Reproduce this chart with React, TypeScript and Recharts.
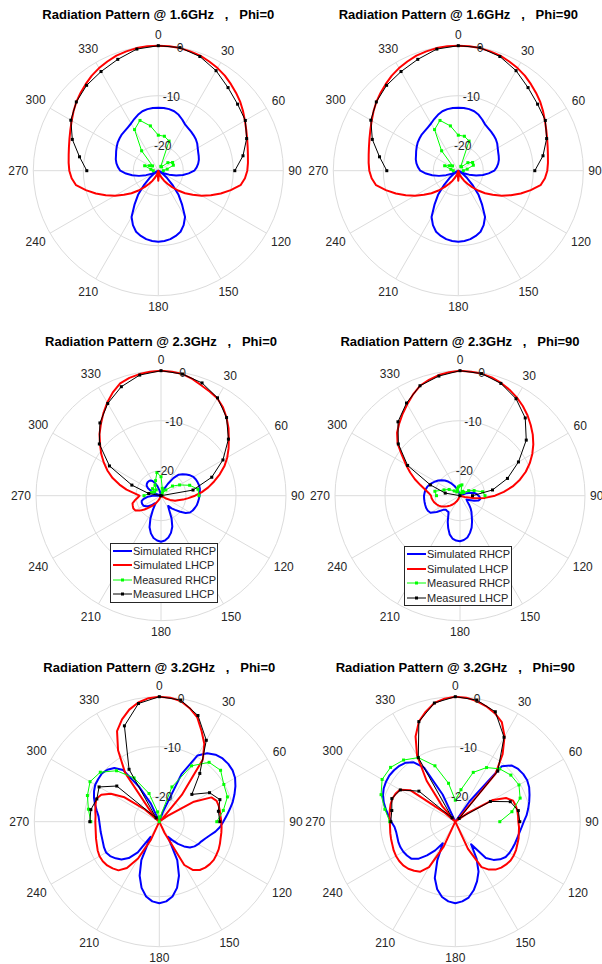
import React from "react";
import {
  RadarChart,
  Radar,
  PolarGrid,
  PolarAngleAxis,
  PolarRadiusAxis,
  Legend,
} from "recharts";

const FONT = '"Liberation Sans", Arial, Helvetica, sans-serif';
const TEXT = "#262626";
const GRID = "#dcdcdc";
const R_OUTER = 125;

// simulated curves: one value every 5 degrees, 0..355 (clockwise from top)
const SIM_ANGLES = [
  0, 5, 10, 15, 20, 25, 30, 35, 40, 45, 50, 55, 60, 65, 70, 75, 80, 85,
  90, 95, 100, 105, 110, 115, 120, 125, 130, 135, 140, 145, 150, 155, 160, 165, 170, 175,
  180, 185, 190, 195, 200, 205, 210, 215, 220, 225, 230, 235, 240, 245, 250, 255, 260, 265,
  270, 275, 280, 285, 290, 295, 300, 305, 310, 315, 320, 325, 330, 335, 340, 345, 350, 355,
];

// measured points: every 10 degrees over the front half, 270 -> 0 -> 90
const MEAS_ANGLES = [270, 280, 290, 300, 310, 320, 330, 340, 350, 0, 10, 20, 30, 40, 50, 60, 70, 80, 90];

const ANGLE_TICKS = [0, 30, 60, 90, 120, 150, 180, 210, 240, 270, 300, 330];
const R_TICKS = [-20, -10, 0];

// 1.6 GHz (both cuts)
const SIM_RHCP_16 = [
  -12.4, -12.4, -12.5, -12.7, -13.1, -13.7, -14.3, -14.6, -14.8, -15.0, -15.2, -15.5, -15.9, -16.2, -16.4, -16.6, -16.9, -17.3,
  -17.8, -18.9, -20.0, -21.3, -22.7, -23.8, -25, -24, -22.7, -21, -18.7, -16.7, -14.3, -13, -12.0, -11.5, -11.1, -10.9,
  -10.8, -10.9, -11.1, -11.5, -12.0, -13, -14.3, -16.7, -18.7, -21, -22.7, -24, -25, -23.6, -22.4, -21.0, -19.7, -18.5,
  -17.4, -16.9, -16.5, -16.2, -16.0, -15.7, -15.4, -15.1, -14.9, -14.7, -14.6, -14.4, -14.1, -13.6, -13.1, -12.7, -12.5, -12.4,
];
const SIM_LHCP_16 = [
  0, 0, -0.1, -0.3, -0.5, -0.9, -1.3, -1.8, -2.4, -3.0, -3.6, -4.3, -5.0, -5.6, -6.1, -6.5, -6.8, -7.0,
  -7.2, -7.6, -8.3, -10.0, -11.7, -13.4, -15.0, -16.6, -18.0, -19.4, -20.7, -21.8, -22.7, -23.5, -24.2, -25, -25, -24,
  -23, -24, -25, -25, -24.2, -23.5, -22.7, -21.8, -20.7, -19.4, -18.0, -16.6, -15.0, -13.4, -11.7, -10.0, -8.3, -7.6,
  -7.2, -7.0, -6.8, -6.5, -6.1, -5.6, -5.0, -4.3, -3.6, -3.0, -2.4, -1.8, -1.3, -0.9, -0.5, -0.3, -0.1, 0,
];
const MEAS_RHCP_16 = [-24, -23.5, -22.1, -23, -23.5, -19.8, -15.5, -14.3, -15.9, -17.9, -18, -18.7, -24, -24, -22.5, -21.7, -21.8, -23.2, -24];
const MEAS_LHCP_16 = [-10.7, -9, -6.7, -4.8, -3.6, -2.7, -2.1, -1.3, -0.3, 0, 0, -0.7, -1.9, -3.3, -4.3, -4.9, -6.2, -7.8, -9.7];

// 2.3 GHz, Phi=0
const SIM_RHCP_23A = [
  -25, -25, -25, -25, -24.5, -23.5, -22.3, -20.7, -19.5, -18.9, -18.4, -17.9, -17.5, -17.3, -17.2, -17.1, -17.1, -17.2,
  -17.3, -17.4, -17.5, -17.6, -17.8, -18, -18.3, -19, -20, -21, -21.7, -22.5, -21.8, -20, -18.4, -17.3, -16.5, -16,
  -15.8, -16, -16.4, -17.2, -18.3, -20, -21.8, -23, -23, -22.3, -21.7, -21.3, -21, -20.9, -20.9, -21, -21.5, -22.3,
  -23.3, -24.5, -25, -25, -24, -22.8, -22, -21.5, -21.3, -21.2, -21.2, -21.3, -21.6, -22.2, -23, -24, -25, -25,
];
const SIM_LHCP_23A = [
  0, -0.1, -0.3, -0.8, -1.5, -2.0, -2.5, -3.4, -4.6, -5.9, -7.3, -8.5, -9.7, -11, -12.5, -14, -15.4, -16.8,
  -18.2, -19.5, -20.5, -21.5, -22, -23, -24, -25, -25, -25, -25, -25, -25, -25, -25, -25, -25, -25,
  -25, -25, -25, -25, -25, -24.3, -23.8, -23.1, -22.5, -21.7, -20.7, -19.8, -19.1, -18.9, -19, -19.1, -19.7, -20.3,
  -20.7, -19.7, -18, -16.4, -14.7, -13.2, -11.8, -10.4, -9.1, -7.6, -6.3, -4.9, -3.5, -2.2, -1.1, -0.6, -0.3, -0.1,
];
const MEAS_RHCP_23A = [-21.6, -22.5, -23, -23.5, -22.8, -23.5, -22.6, -21.8, -20.3, -21.2, -23.5, -24, -24.5, -23.5, -22, -20.7, -18.9, -17.5, -17.4];
const MEAS_LHCP_23A = [-25, -22.5, -18.8, -13.1, -8.9, -6.0, -3.7, -1.8, -0.5, 0, -0.3, -1, -2.4, -4.6, -7.4, -10.7, -14.2, -18.5, -25];

// 2.3 GHz, Phi=90
const SIM_RHCP_23B = [
  -25, -25, -25, -25, -25, -25, -25, -25, -25, -25, -25, -25, -25, -24.3, -23.5, -22.8, -22, -21.6,
  -21.3, -21, -20.9, -21.2, -22, -23, -23.5, -23.3, -23, -22.4, -21.7, -21, -20.3, -19.3, -18.2, -17.3, -16.5, -16.1,
  -15.9, -16, -16.3, -17, -18.1, -19.2, -20.3, -21, -21, -21, -20.6, -19.3, -18.2, -17.9, -17.8, -17.8, -17.8, -17.8,
  -17.8, -17.9, -18, -18.2, -18.5, -18.9, -19.3, -19.7, -20.2, -20.7, -21.3, -22, -22.7, -23.4, -24, -24.6, -25, -25,
];
const SIM_LHCP_23B = [
  0, -0.1, -0.2, -0.5, -1.0, -1.6, -2.3, -3.1, -4.0, -5.0, -6.0, -7.1, -8.3, -9.6, -11, -12.6, -14.3, -16.2,
  -18, -20, -22, -24, -25, -25, -25, -25, -25, -25, -25, -25, -25, -25, -25, -25, -25, -25,
  -25, -25, -25, -25, -25, -24.3, -23.7, -23.2, -22.7, -22.2, -21.7, -21.2, -20.7, -20.3, -20, -19.7, -19.5, -19.3,
  -19.2, -18.7, -17.9, -16.8, -15.4, -14, -12.5, -10.8, -8.7, -7.2, -6.1, -5.0, -3.9, -2.7, -1.6, -1.0, -0.5, -0.2,
];
const MEAS_RHCP_23B = [-20.3, -19.9, -21.6, -22.5, -23.5, -24, -24, -23.5, -23.2, -23, -22.8, -24.5, -24, -24, -24, -23, -22, -20.4, -20];
const MEAS_LHCP_23B = [-25, -22, -18.7, -12.9, -8.9, -5.7, -3.6, -1.6, -0.7, 0, -0.2, -1.1, -2.6, -4.7, -7.7, -11.5, -14.9, -18.4, -22.5];

// 3.2 GHz, Phi=0
const SIM_RHCP_32A = [
  -25, -25, -25, -25, -23, -14.5, -9.7, -8.3, -7.5, -7.1, -7, -7.1, -7.5, -8.2, -9, -9.8, -10.7, -11.5,
  -12.2, -12.8, -13.6, -14.5, -15.2, -15.7, -16, -16.4, -17, -18, -19.2, -20.5, -21.5, -16.5, -13.5, -11.3, -9.8, -9,
  -8.7, -9, -9.8, -11.3, -13.5, -16.5, -21.5, -17.5, -15.5, -14.3, -13.6, -13, -12.7, -12.8, -13, -13.1, -13.1, -13.1,
  -13, -12.8, -12.3, -11.7, -11.1, -10.6, -10.2, -10.1, -10, -10.3, -11, -12.4, -17, -21, -25, -25, -25, -25,
];
const SIM_LHCP_32A = [
  0, -0.1, -0.5, -1.5, -2.8, -5, -7, -9.8, -18, -24, -25, -23, -17, -13.5, -12.8, -12.7, -12.7, -12.7,
  -12.6, -12.5, -12.4, -12.3, -12.1, -11.9, -11.8, -11.7, -11.8, -12, -12.4, -13.2, -15, -22.5, -25, -25, -25, -25,
  -25, -25, -25, -25, -25, -21, -16.5, -13.7, -12.3, -11.8, -11.4, -11.2, -11.2, -11.4, -11.7, -11.9, -12.1, -12.2,
  -12.2, -12.2, -12, -11.8, -11.6, -12.2, -13.8, -16.5, -21, -25, -22.3, -13.1, -8.5, -5, -3.2, -1.8, -0.8, -0.2,
];
const MEAS_RHCP_32A = [-11.3, -10.6, -9.7, -9, -9.6, -11.7, -14.9, -19, -23, -25, -24, -17.6, -12.1, -9.5, -9, -10.1, -10.5, -12, -13.5];
const MEAS_LHCP_32A = [-11.1, -11.1, -11.7, -11.1, -13.9, -24, -12.9, -4.6, -1, 0, -0.3, -2.4, -6.2, -12.4, -16.5, -13.4, -12.1, -13, -12.9];

// 3.2 GHz, Phi=90
const SIM_RHCP_32B = [
  -25, -25, -25, -25, -25, -25, -25, -20, -10.5, -9.1, -8.6, -8.4, -8.4, -8.7, -9.2, -9.7, -10.2, -10.7,
  -11.3, -11.7, -12, -12.2, -12.3, -12.4, -12.5, -12.7, -13.3, -14.2, -15.5, -19.5, -16.5, -14, -12.3, -10.8, -9.6, -9,
  -8.7, -9, -9.7, -11, -13, -16.5, -20, -18, -16.2, -14.5, -13.5, -13.2, -13, -12.9, -12.9, -13, -13, -12.8,
  -12.2, -11.6, -10.9, -10.2, -9.6, -9.2, -9, -8.9, -9, -9.2, -9.6, -10.5, -12.5, -19, -25, -25, -25, -25,
];
const SIM_LHCP_32B = [
  0, -0.1, -0.5, -1.1, -1.9, -3, -5.3, -8.5, -12.5, -24, -25, -22, -16.3, -13.8, -12.7, -12.5, -12.4, -12.4,
  -12.4, -12.2, -12.1, -11.9, -11.8, -11.6, -11.5, -11.5, -11.7, -12, -12.5, -13.3, -14.5, -19, -25, -25, -25, -25,
  -25, -25, -25, -25, -25, -19.5, -14.5, -12.8, -12.2, -11.7, -11.4, -11.3, -11.3, -11.4, -11.6, -11.7, -11.8, -11.9,
  -11.9, -11.8, -11.7, -11.6, -11.6, -11.8, -12.2, -14, -22, -25, -21, -15, -9.7, -6.2, -3.7, -2.2, -0.9, -0.3,
];
const MEAS_RHCP_32B = [-11.9, -10.7, -9.2, -8.1, -8.1, -8.9, -10.2, -13.1, -17.2, -20.7, -18.5, -14.5, -12.5, -11.2, -10.5, -10.3, -11.2, -13.5, -16.1];
const MEAS_LHCP_32B = [-12.1, -12.1, -11.5, -12.3, -15.5, -24, -10.2, -3.7, -0.9, 0, -0.3, -1.6, -5.5, -11.8, -24, -16.9, -13.3, -12.2, -12.1];

const SERIES = [
  { key: "simR", name: "Simulated RHCP", color: "#0000ff", width: 2, measured: false },
  { key: "simL", name: "Simulated LHCP", color: "#ff0000", width: 2, measured: false },
  { key: "measR", name: "Measured RHCP", color: "#00ff00", width: 1, measured: true },
  { key: "measL", name: "Measured LHCP", color: "#000000", width: 1, measured: true },
];

// rows start at 270 so the measured points (270 -> 90) come out in one run
const START = SIM_ANGLES.indexOf(270);
const ROW_ANGLES = SIM_ANGLES.slice(START).concat(SIM_ANGLES.slice(0, START));

const buildRows = (simR: number[], simL: number[], measR: number[], measL: number[]) =>
  ROW_ANGLES.map((angle) => {
    const i = SIM_ANGLES.indexOf(angle);
    const m = MEAS_ANGLES.indexOf(angle);
    return {
      angle,
      simR: simR[i],
      simL: simL[i],
      measR: m < 0 ? null : measR[m],
      measL: m < 0 ? null : measL[m],
    };
  });

const rows16 = buildRows(SIM_RHCP_16, SIM_LHCP_16, MEAS_RHCP_16, MEAS_LHCP_16);
const rows23a = buildRows(SIM_RHCP_23A, SIM_LHCP_23A, MEAS_RHCP_23A, MEAS_LHCP_23A);
const rows23b = buildRows(SIM_RHCP_23B, SIM_LHCP_23B, MEAS_RHCP_23B, MEAS_LHCP_23B);
const rows32a = buildRows(SIM_RHCP_32A, SIM_LHCP_32A, MEAS_RHCP_32A, MEAS_LHCP_32A);
const rows32b = buildRows(SIM_RHCP_32B, SIM_LHCP_32B, MEAS_RHCP_32B, MEAS_LHCP_32B);

const PANELS = [
  { id: "a", title: "Radiation Pattern @ 1.6GHz   ,   Phi=0", left: 0, top: 0, width: 312, height: 320, cx: 158.3, cy: 170.7, titleY: 15, data: rows16, legend: null },
  { id: "b", title: "Radiation Pattern @ 1.6GHz   ,   Phi=90", left: 300, top: 0, width: 302, height: 320, cx: 158.3, cy: 170.7, titleY: 15, data: rows16, legend: null },
  { id: "c", title: "Radiation Pattern @ 2.3GHz   ,   Phi=0", left: 0, top: 320, width: 312, height: 320, cx: 161, cy: 175.7, titleY: 21.7, data: rows23a, legend: { x: 110, y: 222.7 } },
  { id: "d", title: "Radiation Pattern @ 2.3GHz   ,   Phi=90", left: 300, top: 320, width: 302, height: 320, cx: 160, cy: 175.7, titleY: 21.7, data: rows23b, legend: { x: 104, y: 226 } },
  { id: "e", title: "Radiation Pattern @ 3.2GHz   ,   Phi=0", left: 0, top: 640, width: 312, height: 324, cx: 159.3, cy: 181.7, titleY: 27.7, data: rows32a, legend: null },
  { id: "f", title: "Radiation Pattern @ 3.2GHz   ,   Phi=90", left: 300, top: 640, width: 302, height: 324, cx: 155.3, cy: 181.7, titleY: 27.7, data: rows32b, legend: null },
];

const makeTrace = (color: string, width: number, measured: boolean) => (props: any) => {
  const pts = (props.points ?? []).filter(
    (p: any) => p.value != null && Number.isFinite(p.x) && Number.isFinite(p.y)
  );
  if (pts.length === 0) return <g />;
  const d =
    pts.map((p: any, i: number) => `${i === 0 ? "M" : "L"}${p.x},${p.y}`).join("") +
    (measured ? "" : "Z");
  return (
    <g>
      <path d={d} fill="none" stroke={color} strokeWidth={width} strokeLinejoin="round" />
      {measured &&
        pts.map((p: any, i: number) => (
          <rect key={i} x={p.x - 1.5} y={p.y - 1.5} width={3} height={3} fill={color} />
        ))}
    </g>
  );
};

const angleTick = (cx: number, cy: number) => (props: any) => {
  const { x, y, payload } = props;
  const dx = x - cx;
  const dy = y - cy;
  const len = Math.hypot(dx, dy) || 1;
  const ux = dx / len;
  const uy = dy / len;
  const label = String(payload.value);
  const ext = Math.abs(ux) * label.length * 3.35 + Math.abs(uy) * 6;
  const r = R_OUTER + 5 + ext;
  return (
    <text x={cx + ux * r} y={cy + uy * r} textAnchor="middle" dominantBaseline="central"
      fontSize={12} fontFamily={FONT} fill={TEXT}>
      {label}
    </text>
  );
};

const radiusTick = (props: any) => (
  <text x={props.x} y={props.y} textAnchor="middle" dominantBaseline="central"
    fontSize={12} fontFamily={FONT} fill={TEXT}>
    {props.payload.value}
  </text>
);

const LegendBox = () => (
  <div style={{ width: 108, height: 60, boxSizing: "border-box", border: "1px solid #262626", background: "#fff",
    fontFamily: FONT, fontSize: 11, color: TEXT }}>
    {SERIES.map((s) => (
      <div key={s.key} style={{ display: "flex", alignItems: "center", height: 14.5, whiteSpace: "nowrap" }}>
        <svg width={22} height={8} style={{ flex: "none" }}>
          <line x1={2} y1={4} x2={21} y2={4} stroke={s.color} strokeWidth={s.width} />
          {s.measured && <rect x={10} y={2.5} width={3} height={3} fill={s.color} />}
        </svg>
        <span>{s.name}</span>
      </div>
    ))}
  </div>
);

function Panel(p: (typeof PANELS)[number]) {
  return (
    <div style={{ position: "absolute", left: p.left, top: p.top, width: p.width, height: p.height }}>
      <RadarChart width={p.width} height={p.height} data={p.data} cx={p.cx} cy={p.cy}
        innerRadius={0} outerRadius={R_OUTER} startAngle={90} endAngle={-270}
        margin={{ top: 0, right: 0, bottom: 0, left: 0 }}>
        <PolarGrid gridType="circle" stroke={GRID} strokeWidth={1} />
        <PolarAngleAxis dataKey="angle" type="number" scale="linear" domain={[0, 360]}
          ticks={ANGLE_TICKS} tick={angleTick(p.cx, p.cy)} axisLine={false} tickLine={false} />
        <PolarRadiusAxis angle={80} type="number" domain={[-25, 0]} ticks={R_TICKS}
          allowDataOverflow axisLine={false} tickLine={false} tick={radiusTick} />
        {SERIES.map((s) => (
          <Radar key={s.key} name={s.name} dataKey={s.key} stroke={s.color} fill="none"
            strokeWidth={s.width} dot={false} isAnimationActive={false}
            shape={makeTrace(s.color, s.width, s.measured)} />
        ))}
        {p.legend && (
          <Legend layout="vertical" align="center" verticalAlign="middle" content={<LegendBox />}
            wrapperStyle={{ left: p.legend.x, top: p.legend.y, width: 108 }} />
        )}
      </RadarChart>
      <div style={{ position: "absolute", left: p.cx - 150, width: 300, top: p.titleY - 8, lineHeight: "16px",
        textAlign: "center", whiteSpace: "pre", fontFamily: FONT, fontWeight: "bold", fontSize: 13, color: "#000" }}>
        {p.title}
      </div>
    </div>
  );
}

export default function App() {
  return (
    <div style={{ position: "absolute", left: 0, top: 0, width: 602, height: 964, background: "#fff", overflow: "hidden" }}>
      {PANELS.map((p) => (
        <Panel key={p.id} {...p} />
      ))}
    </div>
  );
}
